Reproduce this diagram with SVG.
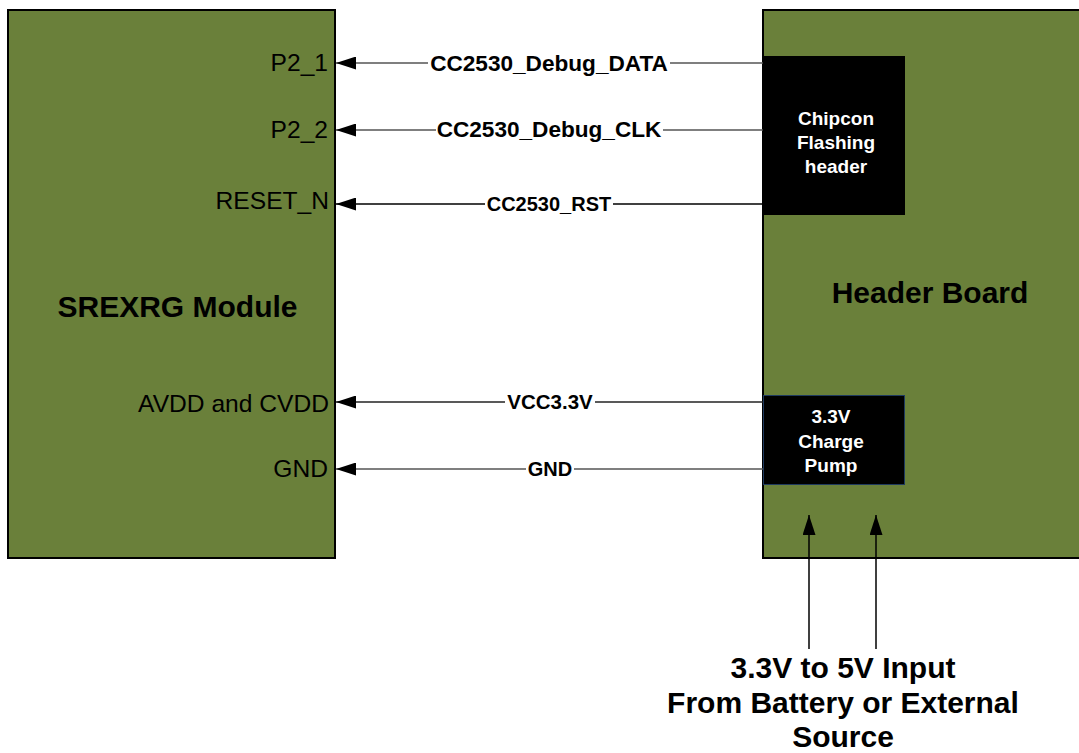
<svg xmlns="http://www.w3.org/2000/svg" width="1079" height="753" viewBox="0 0 1079 753">
<style>
.box{fill:#6a803a;stroke:#000;stroke-width:2}
.blk{fill:#000}
.pin{font-family:"Liberation Sans",Arial,sans-serif;font-size:24.6px;fill:#000;text-anchor:end}
.title{font-family:"Liberation Sans",Arial,sans-serif;font-size:30px;font-weight:bold;fill:#000;text-anchor:middle}
.wt{font-family:"Liberation Sans",Arial,sans-serif;font-size:19px;font-weight:bold;fill:#fff;text-anchor:middle}
.lbl{font-family:"Liberation Sans",Arial,sans-serif;font-weight:bold;fill:#000;text-anchor:middle}
.big{font-family:"Liberation Sans",Arial,sans-serif;font-size:30px;font-weight:bold;fill:#000;text-anchor:middle}
.ln{stroke-width:1.5;fill:none}
.bg{fill:#fff}
</style>
<defs>
<marker id="ah" viewBox="0 0 20 13" refX="20" refY="6.5" markerWidth="20" markerHeight="13" markerUnits="userSpaceOnUse" orient="auto">
<path d="M0,0 L20,6.5 L0,13 Z" fill="#000"/>
</marker>
</defs>
<g id="srexrg">
<rect class="box" x="8" y="10" width="327" height="548"/>
<text class="title" x="177.5" y="317">SREXRG Module</text>
<text class="pin" x="328" y="71">P2_1</text>
<text class="pin" x="328" y="138">P2_2</text>
<text class="pin" x="329" y="209">RESET_N</text>
<text class="pin" x="329" y="412">AVDD and CVDD</text>
<text class="pin" x="328" y="477">GND</text>
</g>
<g id="header-board">
<rect class="box" x="763" y="10" width="330" height="548"/>
<text class="title" x="930" y="303">Header Board</text>
</g>
<g id="chipcon">
<rect class="blk" x="763" y="56" width="142" height="159"/>
<text class="wt" x="836" y="125">Chipcon</text>
<text class="wt" x="836" y="149">Flashing</text>
<text class="wt" x="836" y="173">header</text>
</g>
<g id="charge-pump">
<rect class="blk" x="763.5" y="395.5" width="141" height="89" stroke="#1f3a5f" stroke-width="1"/>
<text class="wt" x="831" y="423">3.3V</text>
<text class="wt" x="831" y="448">Charge</text>
<text class="wt" x="831" y="472">Pump</text>
</g>
<g id="connectors">
<line class="ln" x1="763" y1="63" x2="336" y2="63" stroke="#555" marker-end="url(#ah)"/>
<rect class="bg" x="428" y="52" width="242" height="22"/>
<text class="lbl" x="549" y="71" font-size="22.6">CC2530_Debug_DATA</text>
<line class="ln" x1="763" y1="130" x2="336" y2="130" stroke="#555" marker-end="url(#ah)"/>
<rect class="bg" x="436" y="119" width="227" height="22"/>
<text class="lbl" x="549" y="137" font-size="22.6">CC2530_Debug_CLK</text>
<line class="ln" x1="763" y1="204" x2="336" y2="204" stroke="#000" marker-end="url(#ah)"/>
<rect class="bg" x="485" y="195" width="128" height="19"/>
<text class="lbl" x="549" y="211" font-size="20">CC2530_RST</text>
<line class="ln" x1="763" y1="402" x2="336" y2="402" stroke="#222" marker-end="url(#ah)"/>
<rect class="bg" x="505" y="393" width="90" height="19"/>
<text class="lbl" x="550" y="409" font-size="20.5">VCC3.3V</text>
<line class="ln" x1="763" y1="469" x2="336" y2="469" stroke="#555" marker-end="url(#ah)"/>
<rect class="bg" x="526" y="460" width="48" height="19"/>
<text class="lbl" x="550" y="476" font-size="20">GND</text>
<line class="ln" x1="809" y1="649" x2="809" y2="515" stroke="#000" marker-end="url(#ah)"/>
<line class="ln" x1="876" y1="649" x2="876" y2="515" stroke="#000" marker-end="url(#ah)"/>
</g>
<g id="input-label">
<text class="big" x="843" y="678">3.3V to 5V Input</text>
<text class="big" x="843" y="712.5">From Battery or External</text>
<text class="big" x="843" y="747">Source</text>
</g>
</svg>
